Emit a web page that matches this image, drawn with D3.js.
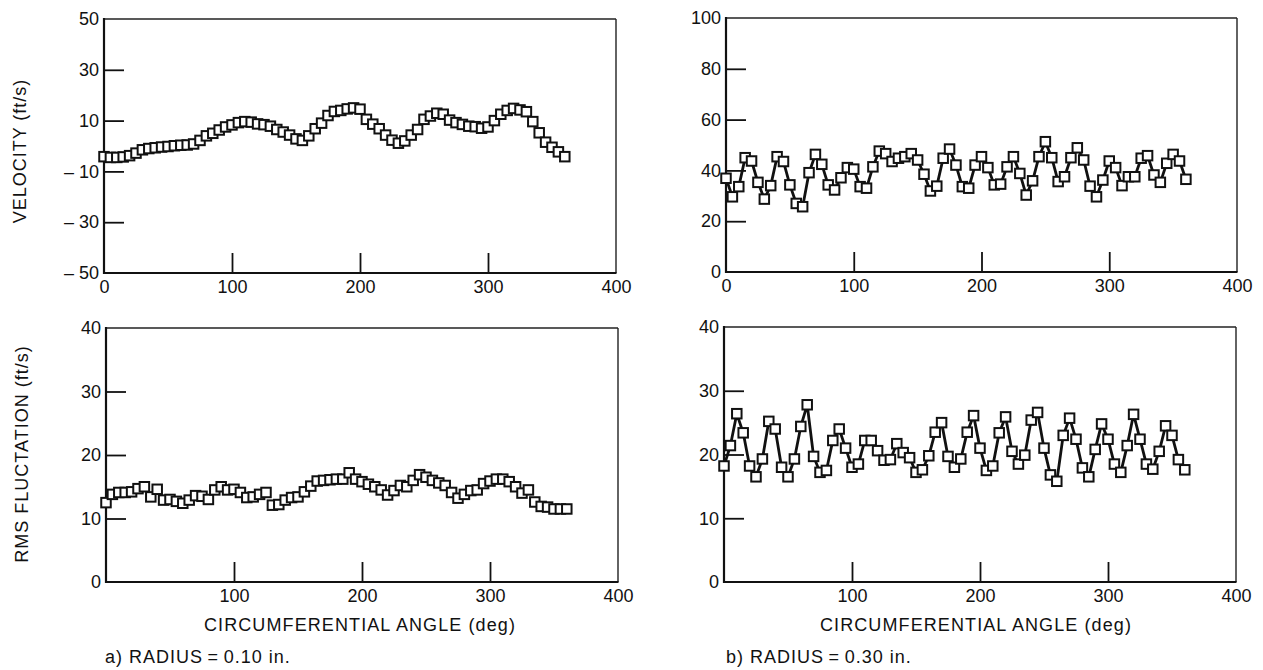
<!DOCTYPE html>
<html>
<head>
<meta charset="utf-8">
<script src="https://cdn.jsdelivr.net/npm/d3@7"></script>
<style>
  html, body { margin: 0; padding: 0; background: #fff; }
  svg { display: block; }
  text { font-family: "Liberation Sans", Arial, Helvetica, sans-serif; fill: #111; }
</style>
</head>
<body>
<svg id="chart" width="1263" height="670"></svg>
<script>
// ---- data ----
const angles = [0,5,10,15,20,25,30,35,40,45,50,55,60,65,70,75,80,85,90,95,100,105,110,115,120,125,130,135,140,145,150,155,160,165,170,175,180,185,190,195,200,205,210,215,220,225,230,235,240,245,250,255,260,265,270,275,280,285,290,295,300,305,310,315,320,325,330,335,340,345,350,355,360];

const velocityA = [-4.2,-4.5,-4.5,-4.3,-3.8,-2.8,-1.5,-1.0,-0.7,-0.4,-0.2,0.1,0.3,0.4,0.8,2.2,4.0,5.0,6.3,7.5,8.3,9.2,9.6,9.4,8.7,8.4,7.8,6.5,5.5,4.3,2.8,2.2,4.0,6.8,9.0,12.0,13.6,14.0,14.6,15.0,14.5,10.5,8.6,6.8,4.3,2.3,1.1,2.0,4.3,6.5,10.5,11.8,12.9,12.5,10.2,9.2,8.5,7.8,7.6,7.0,7.5,10.0,12.5,14.0,14.8,14.2,13.5,9.6,5.2,1.5,-0.5,-2.3,-4.2];

const velocityB = [36.9,29.6,33.6,45.0,43.7,35.3,28.7,34.0,45.4,43.5,34.3,27.0,25.7,39.1,46.3,42.4,34.3,32.3,37.1,41.1,40.5,33.6,33.0,41.4,47.6,46.6,43.5,44.8,45.4,46.6,44.1,38.5,31.9,33.8,44.8,48.4,42.1,33.6,33.0,42.1,45.4,41.1,34.3,34.6,41.4,45.4,38.8,30.3,35.9,45.4,51.3,45.0,35.6,37.5,45.0,48.9,44.1,33.8,29.6,36.2,43.7,41.1,34.0,37.5,37.5,44.8,45.8,38.2,35.3,42.8,46.3,43.7,36.5];

const rmsA = [12.5,13.8,14.1,14.1,14.2,14.7,15.0,13.4,14.6,12.9,13.0,12.7,12.4,12.9,13.6,13.5,13.0,14.5,15.0,14.5,14.6,14.1,13.3,13.4,13.8,14.1,12.1,12.2,12.9,13.3,13.4,14.2,15.1,15.9,16.0,16.1,16.2,16.2,17.2,16.2,15.8,15.4,15.0,14.5,13.7,14.4,15.2,15.0,16.0,16.9,16.5,16.0,15.6,15.2,14.1,13.2,13.8,14.4,14.5,15.5,15.9,16.2,16.2,15.8,15.0,14.0,14.5,12.6,11.9,11.8,11.5,11.5,11.5];

const rmsB = [18.2,21.4,26.4,23.4,18.2,16.5,19.3,25.2,24.0,18.0,16.5,19.3,24.4,27.8,19.7,17.2,17.5,22.2,24.0,21.0,18.0,18.5,22.2,22.2,20.6,19.1,19.2,21.7,20.3,19.5,17.2,17.6,19.8,23.5,25.0,19.7,18.0,19.3,23.5,26.1,21.0,17.5,18.2,23.4,25.9,20.5,18.5,19.9,25.4,26.6,21.0,16.8,15.8,23.0,25.7,22.4,17.9,16.5,20.8,24.8,22.4,18.5,17.2,21.4,26.3,22.4,18.5,17.7,20.5,24.5,23.0,19.2,17.6];

const angleTicksTop = [0,100,200,300,400];
const angleTicksBottom = [100,200,300,400];
const velATicks = [-50,-30,-10,10,30,50];
const velBTicks = [0,20,40,60,80,100];
const rmsTicks = [0,10,20,30,40];

const yTitleTop = "VELOCITY (ft/s)";
const yTitleBottom = "RMS FLUCTATION (ft/s)";
const xTitle = "CIRCUMFERENTIAL ANGLE (deg)";
const captionA = "a) RADIUS\u2009=\u20090.10 in.";
const captionB = "b) RADIUS\u2009=\u20090.30 in.";

// ---- drawing ----
const svg = d3.select("#chart");
const FONT = '"Liberation Sans", Arial, Helvetica, sans-serif';

function fmt(v) { return v < 0 ? "\u2013 " + Math.abs(v) : String(v); }

function panel(opt) {
  const x = d3.scaleLinear().domain([0, 400]).range([opt.x0, opt.x1]);
  const y = d3.scaleLinear().domain(opt.yDomain).range([opt.y1, opt.y0]);
  const g = svg.append("g");

  // y axis (labels + inward ticks)
  const ya = g.append("g").attr("transform", `translate(${opt.x0},0)`)
    .call(d3.axisLeft(y).tickValues(opt.yTicks).tickFormat(fmt)
      .tickSizeInner(-20).tickSizeOuter(0).tickPadding(5));
  ya.select(".domain").remove();
  ya.selectAll(".tick").filter(d => d === opt.yDomain[0] || d === opt.yDomain[1]).select("line").remove();
  ya.selectAll(".tick line").attr("stroke", "#111").attr("stroke-width", 1.8);
  ya.selectAll("text").attr("font-size", 18).attr("fill", "#111")
    .style("font-family", FONT);

  // x axis
  const xa = g.append("g").attr("transform", `translate(0,${opt.y1})`)
    .call(d3.axisBottom(x).tickValues(opt.xTicks).tickFormat(d3.format("d"))
      .tickSizeInner(-20).tickSizeOuter(0).tickPadding(7));
  xa.select(".domain").remove();
  xa.selectAll(".tick").filter(d => d === 0 || d === 400).select("line").remove();
  xa.selectAll(".tick line").attr("stroke", "#111").attr("stroke-width", 1.8);
  xa.selectAll("text").attr("font-size", 18).attr("fill", "#111")
    .style("font-family", FONT);

  // frame: heavier left/bottom, lighter top/right
  g.append("line").attr("x1", opt.x0).attr("x2", opt.x1).attr("y1", opt.y0).attr("y2", opt.y0)
    .attr("stroke", "#222").attr("stroke-width", 1.4);
  g.append("line").attr("x1", opt.x1).attr("x2", opt.x1).attr("y1", opt.y0).attr("y2", opt.y1)
    .attr("stroke", "#222").attr("stroke-width", 1.4);
  g.append("line").attr("x1", opt.x0).attr("x2", opt.x0).attr("y1", opt.y0 - 1).attr("y2", opt.y1 + 1)
    .attr("stroke", "#111").attr("stroke-width", 2.2);
  g.append("line").attr("x1", opt.x0 - 1).attr("x2", opt.x1 + 0.5).attr("y1", opt.y1).attr("y2", opt.y1)
    .attr("stroke", "#111").attr("stroke-width", 2.2);

  const pts = angles.map((a, i) => ({ a: a, v: opt.values[i] }));

  if (opt.line) {
    g.append("path").datum(pts)
      .attr("fill", "none").attr("stroke", "#111").attr("stroke-width", 2.8)
      .attr("stroke-linejoin", "round")
      .attr("d", d3.line().x(d => x(d.a)).y(d => y(d.v)));
  }
  const s = 9.5;
  g.append("g").selectAll("rect").data(pts).join("rect")
    .attr("x", d => x(d.a) - s / 2).attr("y", d => y(d.v) - s / 2)
    .attr("width", s).attr("height", s)
    .attr("fill", "#fff").attr("stroke", "#111").attr("stroke-width", 2);
  return g;
}

panel({ x0: 104, x1: 616, y0: 19, y1: 273, yDomain: [-50, 50], yTicks: velATicks, xTicks: angleTicksTop, values: velocityA, line: false });
panel({ x0: 726, x1: 1237, y0: 18, y1: 272, yDomain: [0, 100], yTicks: velBTicks, xTicks: angleTicksTop, values: velocityB, line: true });
panel({ x0: 106, x1: 618, y0: 328, y1: 582, yDomain: [0, 40], yTicks: rmsTicks, xTicks: angleTicksBottom, values: rmsA, line: false });
panel({ x0: 724, x1: 1236, y0: 327, y1: 582, yDomain: [0, 40], yTicks: rmsTicks, xTicks: angleTicksBottom, values: rmsB, line: true });

// titles
svg.append("text").attr("transform", "translate(26,151) rotate(-90)")
  .attr("text-anchor", "middle").attr("font-size", 18).attr("letter-spacing", 1)
  .text(yTitleTop);
svg.append("text").attr("transform", "translate(28,454) rotate(-90)")
  .attr("text-anchor", "middle").attr("font-size", 18).attr("letter-spacing", 1)
  .text(yTitleBottom);
svg.append("text").attr("x", 360).attr("y", 631)
  .attr("text-anchor", "middle").attr("font-size", 18).attr("letter-spacing", 1.1)
  .text(xTitle);
svg.append("text").attr("x", 976).attr("y", 631)
  .attr("text-anchor", "middle").attr("font-size", 18).attr("letter-spacing", 1.1)
  .text(xTitle);
svg.append("text").attr("x", 105).attr("y", 663)
  .attr("font-size", 18).attr("letter-spacing", 1)
  .text(captionA);
svg.append("text").attr("x", 726).attr("y", 663)
  .attr("font-size", 18).attr("letter-spacing", 1)
  .text(captionB);
</script>
</body>
</html>
